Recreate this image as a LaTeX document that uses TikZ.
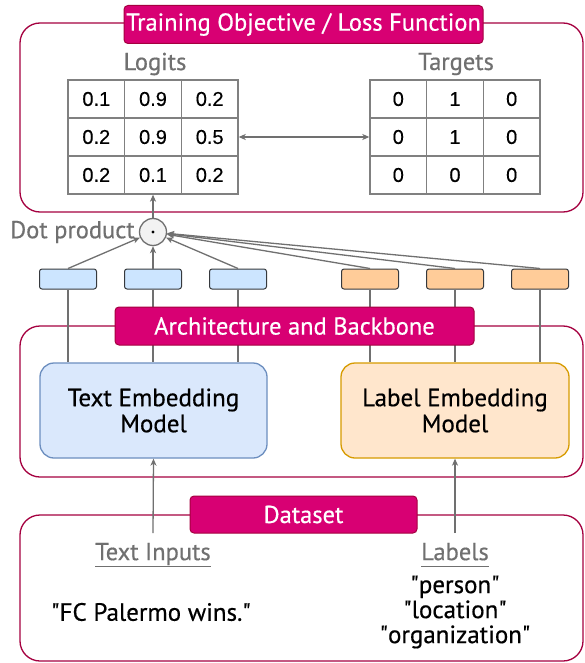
\documentclass[tikz,border=0pt]{standalone}
\usepackage{fontspec}
\setmainfont{PT Sans}[FakeBold=0.5]
\newfontfamily\numfont{Liberation Sans}[FakeBold=0.3]
\usetikzlibrary{arrows.meta}
\definecolor{mag}{HTML}{D80073}
\definecolor{magd}{HTML}{A50040}
\definecolor{lgray}{HTML}{707070}
\definecolor{cellgray}{HTML}{808080}
\definecolor{blueF}{HTML}{DAE8FC}
\definecolor{blueD}{HTML}{6C8EBF}
\definecolor{orangeF}{HTML}{FFE6CC}
\definecolor{orangeD}{HTML}{D79B00}
\definecolor{blueS}{HTML}{CCE5FF}
\definecolor{orangeS}{HTML}{FFCC99}
\definecolor{darkline}{HTML}{36393D}
\newcommand{\q}{\textquotedbl}
\tikzset{
  frame/.style={draw=magd, line width=1.3pt, rounded corners=20pt},
  titlebox/.style={draw=magd, fill=mag, text=white, rounded corners=4pt, line width=1pt,
    inner sep=0pt, font=\fontsize{24.5}{28}\selectfont},
  cell/.style={draw=cellgray, line width=1.3pt, minimum width=56.7pt, minimum height=38pt,
    inner sep=0pt, font=\numfont\fontsize{20}{22}\selectfont},
  graytext/.style={text=lgray, font=\fontsize{24.5}{28}\selectfont, inner sep=1pt},
  arr/.style={draw=lgray, line width=1.3pt, -{Stealth[length=7pt,width=6pt,inset=2pt]}},
  plainline/.style={draw=lgray, line width=1.3pt},
  small/.style={draw=darkline, line width=1pt, rounded corners=2.5pt, minimum width=57pt,
    minimum height=20pt, inner sep=0pt},
  model/.style={line width=1.3pt, rounded corners=14pt, minimum width=227pt, minimum height=95pt,
    align=center, font=\fontsize{25}{26}\selectfont},
  plaintext/.style={font=\fontsize{25}{25}\selectfont, align=center, inner sep=1pt}
}
\begin{document}
\begin{tikzpicture}[x=1pt,y=-1pt]
\useasboundingbox (0,0) rectangle (585,663);
\clip (0,0) rectangle (585,663);
\fill[white] (0,0) rectangle (585,663);

% frames
\draw[frame] (20,23) rectangle (583,212);
\draw[frame] (20,326) rectangle (583,477);
\draw[frame] (20,515) rectangle (583,661);

% logits grid
\node[graytext] (logits) at (155,64) {Logits};
\node[graytext] (targets) at (456,64) {Targets};
\foreach \r/\a/\b/\c in {1/0.1/0.9/0.2, 2/0.2/0.9/0.5, 3/0.2/0.1/0.2} {
  \node[cell] (L\r1) at (96.3,{61+38*\r}) {\a};
  \node[cell] (L\r2) at (153,{61+38*\r}) {\b};
  \node[cell] (L\r3) at (209.7,{61+38*\r}) {\c};
}
\foreach \r/\a/\b/\c in {1/0/1/0, 2/0/1/0, 3/0/0/0} {
  \node[cell] (T\r1) at (398.3,{61+38*\r}) {\a};
  \node[cell] (T\r2) at (455,{61+38*\r}) {\b};
  \node[cell] (T\r3) at (511.7,{61+38*\r}) {\c};
}
\draw[draw=lgray, line width=1.3pt, {Stealth[length=7pt,width=6pt,inset=2pt]}-{Stealth[length=7pt,width=6pt,inset=2pt]}]
  (L23.east) -- (T21.west);

% dot product
\node[circle, draw=lgray, fill=gray!10, line width=1.3pt, minimum size=27pt, inner sep=0pt] (dot) at (153,232) {};
\fill (dot.center) circle (1.6pt);
\node[graytext, anchor=east] (dpl) at ([xshift=-3pt]dot.west) {Dot product};
\draw[arr] (dot) -- (L32.south);

% model boxes
\node[model, draw=blueD, fill=blueF] (tem) at (153.5,410.5) {Text Embedding\\Model};
\node[model, draw=orangeD, fill=orangeF, minimum width=228pt] (lem) at (455,410.5) {Label Embedding\\Model};

% small embedding rectangles
\node[small, fill=blueS] (b1) at (68,279) {};
\node[small, fill=blueS] (b2) at (153,279) {};
\node[small, fill=blueS] (b3) at (238,279) {};
\node[small, fill=orangeS] (o1) at (370,279) {};
\node[small, fill=orangeS] (o2) at (455,279) {};
\node[small, fill=orangeS] (o3) at (540,279) {};

\foreach \n in {b1,b2,b3} {
  \draw[plainline] (\n.south) -- (\n.south |- tem.north);
  \draw[arr] (\n.north) -- (dot);
}
\foreach \n in {o1,o2,o3} {
  \draw[plainline] (\n.south) -- (\n.south |- lem.north);
  \draw[arr] (\n.north) -- (dot);
}

% titles
\node[titlebox, minimum width=359pt, minimum height=38pt] (t1) at (303.5,24.5) {Training Objective / Loss Function};
\node[titlebox, minimum width=359pt, minimum height=38pt] (t2) at (294.5,326) {Architecture and Backbone};

% dataset
\coordinate (tin) at (153,533);
\coordinate (lin) at (455,533);
\draw[arr] (tin) -- (tem.south);
\draw[arr] (lin) -- (lem.south);
\node[titlebox, minimum width=227pt, minimum height=37pt] (t3) at (303.5,514.5) {Dataset};

\node[graytext] (ti) at (153,555) {\underline{Text Inputs}};
\node[graytext] (lb) at (455,555) {\underline{\vphantom{p}Labels}};
\node[plaintext] (fc) at (151,612) {\q FC Palermo wins.\q};
\node[plaintext] (ls) at (455,612) {\q person\q\\\q location\q\\\q organization\q};
\end{tikzpicture}
\end{document}
